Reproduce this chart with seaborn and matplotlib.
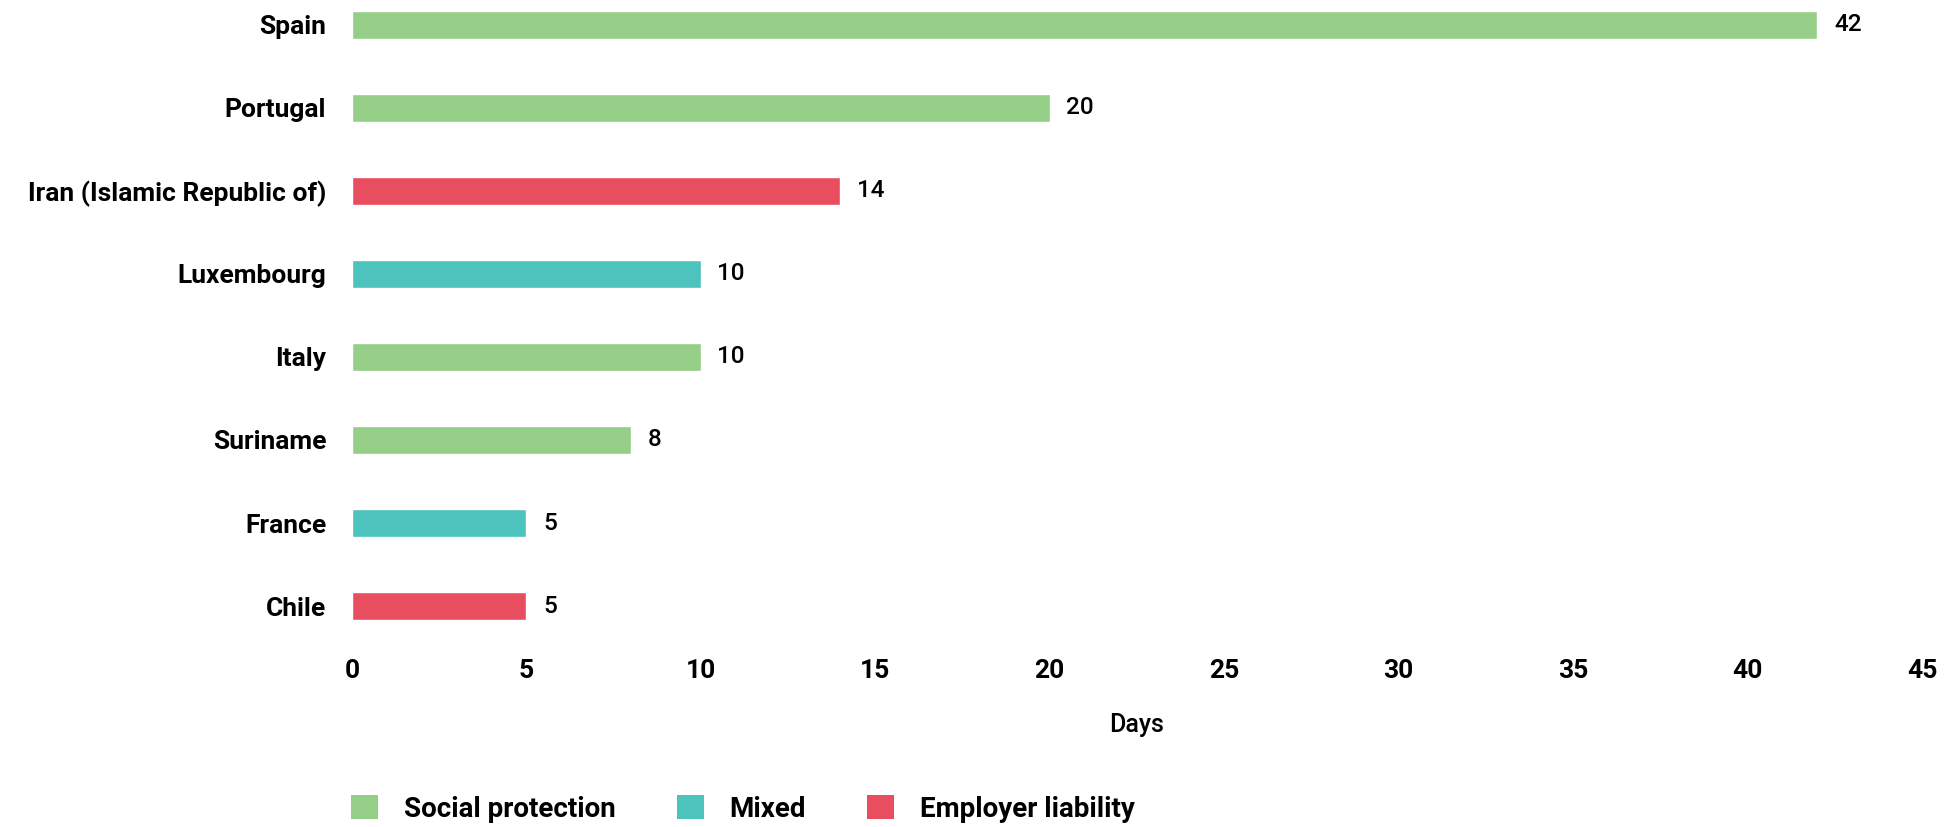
import matplotlib
matplotlib.use("Agg")
import matplotlib.pyplot as plt
from matplotlib.patches import Patch
import seaborn as sns
import pandas as pd

# Data
countries = ["Spain", "Portugal", "Iran (Islamic Republic of)", "Luxembourg",
             "Italy", "Suriname", "France", "Chile"]
days = [42, 20, 14, 10, 10, 8, 5, 5]
scheme = ["Social protection", "Social protection", "Employer liability", "Mixed",
          "Social protection", "Social protection", "Mixed", "Employer liability"]

legend_order = ["Social protection", "Mixed", "Employer liability"]
colors = {"Social protection": "#95CE86",
          "Mixed": "#4DC3BD",
          "Employer liability": "#E94E60"}

df = pd.DataFrame({"Country": countries, "Days": days, "Scheme": scheme})

sns.set_theme(style="white")
plt.rcParams["font.family"] = ["Roboto", "DejaVu Sans"]
plt.rcParams["text.color"] = "black"
plt.rcParams["axes.labelcolor"] = "black"
plt.rcParams["xtick.color"] = "black"
plt.rcParams["ytick.color"] = "black"

fig = plt.figure(figsize=(19.52, 8.27), dpi=100)
ax = fig.add_axes([0.1803, 0.217, 0.8043, 0.783])

sns.barplot(data=df, x="Days", y="Country", hue="Scheme", palette=colors,
            dodge=False, width=0.33, legend=False, ax=ax, order=countries,
            saturation=1)

# value labels on each bar
for cont in ax.containers:
    ax.bar_label(cont, padding=12, fontsize=17.5, fontweight="medium", color="black")

ax.set_xlim(0, 45)
ax.set_ylim(7.5, -0.3)
ax.set_xticks(range(0, 46, 5))
ax.set_ylabel("")
ax.set_xlabel("Days", fontsize=18, fontweight="medium", labelpad=22)
ax.tick_params(axis="y", length=0, pad=18.5, labelsize=19)
ax.tick_params(axis="x", length=0, pad=8, labelsize=19)
for lab in ax.get_yticklabels() + ax.get_xticklabels():
    lab.set_fontweight("bold")
sns.despine(ax=ax, left=True, bottom=True)

# Legend
handles = [Patch(facecolor=colors[k], edgecolor="none", label=k) for k in legend_order]
fig.legend(handles=handles, loc="center left", bbox_to_anchor=(0.1798, 0.0218),
           ncol=3, frameon=False, prop={"size": 20, "weight": "bold"},
           handlelength=0.97, handleheight=0.97, handletextpad=0.93,
           columnspacing=2.2, borderpad=0, borderaxespad=0)

fig.savefig("out.png", dpi=100)
